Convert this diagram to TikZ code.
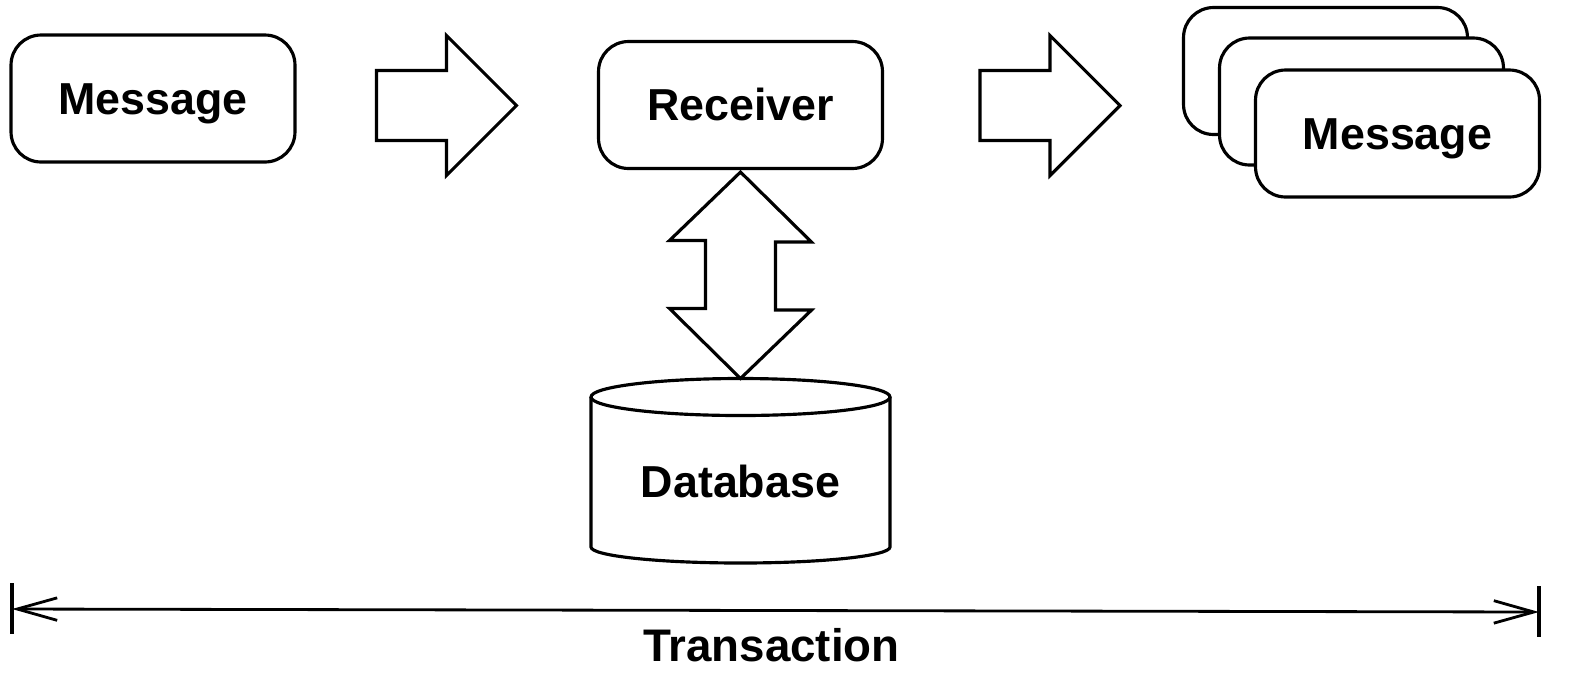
\documentclass[tikz,border=0pt]{standalone}
\usepackage{fontspec}
\setmainfont{Liberation Sans}
\usetikzlibrary{arrows.meta,calc}
\def\Rarrow{-- ++(70,0) -- ++(0,-35) -- ++(70,70) -- ++(-70,70) -- ++(0,-35) -- ++(-70,0) -- cycle}

\begin{document}
\begin{tikzpicture}[x=0.02cm, y=-0.02cm, line join=miter,
    msgbox/.style={draw, fill=white, line width=1.8pt, rounded corners=0.6cm,
      minimum width=5.68cm, minimum height=2.54cm, text height=18.2pt, text depth=0pt,
      font=\fontsize{25.5}{30}\selectfont\bfseries},
    blockarrow/.style={draw, fill=white, line width=1.8pt},
    lbl/.style={font=\fontsize{25.5}{30}\selectfont\bfseries, text height=18.2pt, text depth=0pt, inner sep=0pt}]
  \useasboundingbox (0,0) rectangle (1586,691);
  % incoming message and receiver
  \node[msgbox] (msg) at (153,98.5) {Message};
  \node[msgbox] (recv) at (740.5,105) {Receiver};
  \draw[blockarrow] (376.5,70.5) \Rarrow;
  \draw[blockarrow] (980,70.5) \Rarrow;
  % outgoing messages, stacked
  \node[msgbox] (back2) at (1325.5,71) {};
  \node[msgbox] (back1) at (1361.5,101.5) {};
  \node[msgbox] (out) at (1397.5,133.5) {Message};
  % database
  \draw[blockarrow] (591,397) -- (591,547) arc[start angle=180, end angle=0, x radius=149.5, y radius=16] -- (890,397);
  \draw[blockarrow] (740.5,397) ellipse [x radius=149.5, y radius=18.5];
  \coordinate (dbtop) at (740.5,378.5);
  \node[lbl] (db) at (740.5,481) {Database};
  \draw[blockarrow] ($(recv.south)+(0,2)$) -- ++(71,70) -- ++(-36,0) -- ++(0,68) -- ++(36,0)
    -- (dbtop) -- ++(-71,-70) -- ++(36,0) -- ++(0,-68) -- ++(-36,0) -- cycle;
  % transaction span
  \coordinate (tl) at (12,609);
  \coordinate (tr) at (1539,612);
  \draw[line width=1.8pt] (tl) ++(0,-26) -- ++(0,51);
  \draw[line width=1.8pt] (tr) ++(0,-26) -- ++(0,51);
  \draw[line width=1.6pt, {Straight Barb[length=0.8cm,width=0.45cm]}-{Straight Barb[length=0.8cm,width=0.45cm]}] (tl) -- (tr);
  \node[lbl, font=\fontsize{26}{31}\selectfont\bfseries, text height=18.6pt] (trans) at (771.5,645) {Transaction};
\end{tikzpicture}
\end{document}
